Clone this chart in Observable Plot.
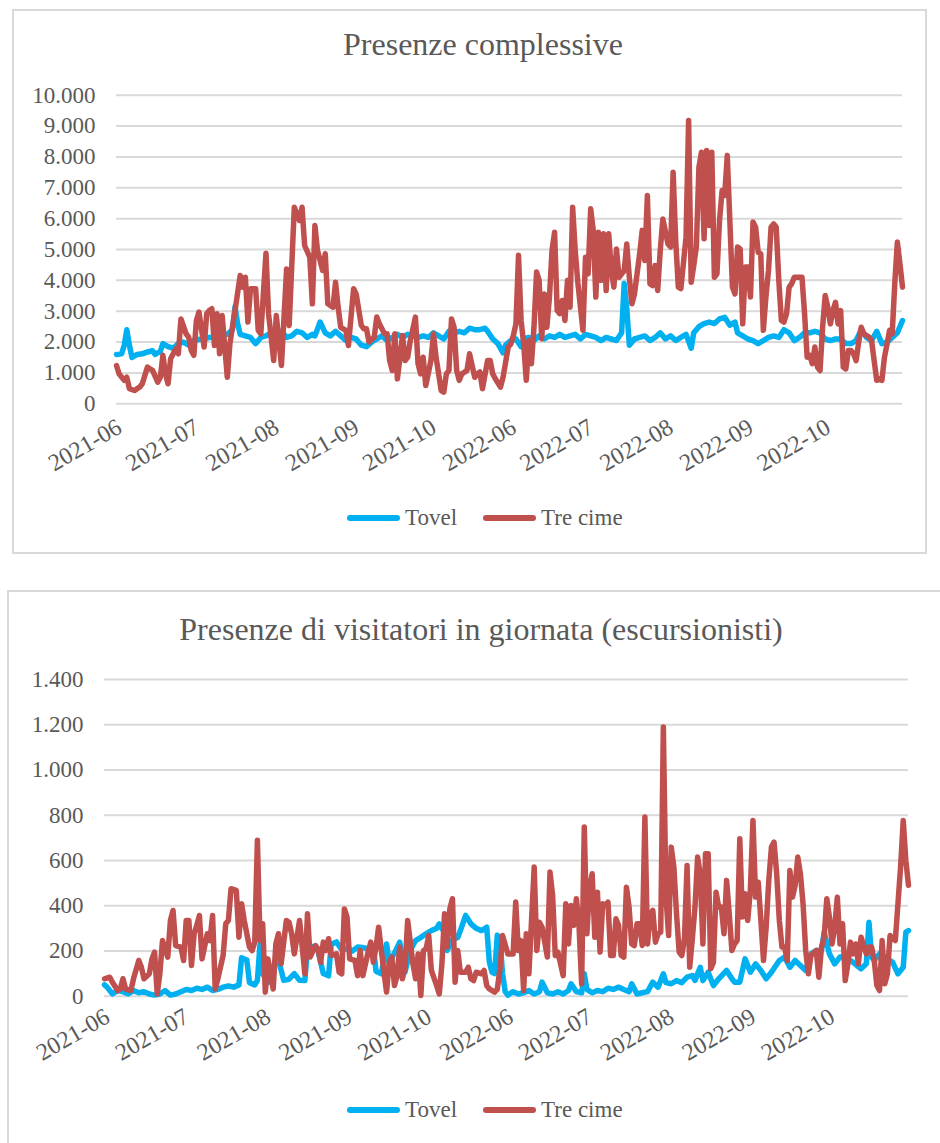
<!DOCTYPE html>
<html>
<head>
<meta charset="utf-8">
<script src="https://cdn.jsdelivr.net/npm/d3@7"></script>
<script src="https://cdn.jsdelivr.net/npm/@observablehq/plot@0.6"></script>
<style>
  html, body { margin: 0; padding: 0; background: #fff; }
  body { width: 940px; height: 1143px; position: relative; overflow: hidden;
         font-family: "Liberation Serif", "Times New Roman", serif; color: #595959; }
  .box { position: absolute; border: 2px solid #d9d9d9; box-sizing: border-box; }
  .title { position: absolute; font-size: 32px; line-height: 32px; white-space: nowrap; transform: translateX(-50%); }
  .legend { position: absolute; display: flex; align-items: center; height: 24px; font-size: 23px; line-height: 24px; white-space: nowrap; }
  .sw { display: inline-block; width: 53px; height: 6px; border-radius: 3px; margin-right: 5px; }
  .chart { position: absolute; left: 0; }
</style>
</head>
<body>
<div class="box" style="left:12px;top:9px;width:915px;height:545px;"></div>
<div class="box" style="left:7px;top:590px;width:945px;height:570px;"></div>
<div class="title" id="t1" style="left:483px;top:28px;"></div>
<div class="title" id="t2" style="left:481px;top:613px;"></div>
<div class="chart" id="c1" style="top:80px;"></div>
<div class="chart" id="c2" style="top:660px;"></div>
<div class="legend" id="l1" style="left:347px;top:506px;"></div>
<div class="legend" id="l2" style="left:347px;top:1098px;"></div>
<script>
// ---- labels ----
const titleTop = "Presenze complessive";
const titleBottom = "Presenze di visitatori in giornata (escursionisti)";
const seriesNames = ["Tovel", "Tre cime"];
const seriesColors = ["#00b0f0", "#c0504d"];
const monthLabels = ["2021-06","2021-07","2021-08","2021-09","2021-10","2022-06","2022-07","2022-08","2022-09","2022-10"];
const monthDays = [30,31,31,30,31,30,31,31,30,31];
const topTicks = [0,1000,2000,3000,4000,5000,6000,7000,8000,9000,10000];
const bottomTicks = [0,200,400,600,800,1000,1200,1400];

// ---- data: [day of season (0 = 2021-06-01, 153 = 2022-06-01), value] ----
const topTovel = [[0,1600],[2,1620],[3,1900],[4,2400],[5,1900],[6,1500],[8,1600],[10,1620],[12,1680],[14,1720],[15,1600],[17,1700],[18,1950],[20,1850],[22,1800],[24,1950],[26,2000],[28,1900],[30,2050],[33,2100],[36,2150],[40,2200],[43,2250],[45,2400],[46,3150],[47,2600],[48,2250],[50,2200],[52,2150],[54,1950],[56,2150],[58,2200],[60,2300],[62,2250],[64,2350],[66,2150],[68,2200],[70,2350],[72,2300],[74,2150],[76,2250],[77,2200],[79,2650],[81,2300],[83,2200],[85,2350],[87,2200],[89,2050],[91,2150],[93,2100],[95,1900],[97,1850],[99,2000],[101,2100],[103,2200],[105,2050],[107,2150],[109,2250],[111,2150],[113,2250],[115,2200],[117,2150],[119,2200],[121,2150],[123,2300],[125,2200],[127,2100],[129,2350],[131,2300],[133,2350],[135,2300],[137,2450],[139,2400],[141,2400],[143,2450],[144,2350],[146,2100],[148,1950],[150,1650],[151,1900],[153,2050],[155,2100],[157,1850],[158,2100],[160,2150],[162,2050],[164,2200],[166,2100],[168,2200],[170,2150],[172,2250],[174,2150],[176,2200],[178,2250],[180,2100],[182,2250],[184,2200],[186,2150],[188,2050],[190,2150],[192,2100],[194,2050],[196,2300],[197,3900],[198,3100],[199,1900],[201,2100],[203,2150],[205,2200],[207,2050],[209,2150],[211,2300],[213,2100],[215,2200],[217,2050],[219,2150],[221,2250],[223,1800],[224,2300],[226,2500],[228,2600],[230,2650],[232,2600],[234,2750],[236,2800],[238,2550],[240,2650],[241,2300],[243,2200],[245,2100],[247,2050],[249,1950],[251,2050],[253,2150],[255,2200],[257,2150],[259,2400],[261,2300],[263,2050],[265,2150],[267,2300],[269,2300],[271,2350],[273,2300],[275,2100],[277,2050],[279,2100],[281,2100],[283,1950],[285,1950],[287,2050],[289,2400],[291,2150],[293,2050],[295,2350],[297,1950],[299,2000],[301,2150],[303,2300],[305,2700]];

const topTre = [[0,1240],[1,970],[3,760],[4,860],[5,490],[7,430],[8,490],[9,540],[10,650],[12,1190],[13,1130],[14,1080],[16,700],[17,860],[18,1570],[19,970],[20,650],[21,1460],[23,1780],[24,1620],[25,2750],[27,2270],[28,2160],[29,1730],[30,1570],[31,2700],[32,2970],[34,1840],[35,2920],[36,3020],[37,3080],[38,1890],[39,2920],[40,1620],[41,2860],[43,860],[44,1940],[45,2500],[46,3020],[48,4160],[49,3780],[50,4100],[51,2650],[52,3730],[54,3730],[55,2380],[56,2270],[58,4880],[59,2920],[61,1400],[62,2860],[64,1240],[66,4370],[67,2540],[69,6370],[71,5940],[72,6370],[73,5130],[75,4750],[76,3240],[77,5780],[78,4970],[80,4320],[81,4860],[82,3240],[84,3130],[85,3940],[86,3130],[87,2480],[89,2380],[90,1890],[92,3730],[93,3560],[95,2540],[96,2430],[97,2430],[98,2000],[100,2160],[101,2810],[102,2590],[104,2270],[105,2270],[106,1400],[107,1080],[108,2270],[109,810],[111,2210],[112,1400],[113,1510],[114,2050],[116,2810],[117,1300],[118,970],[119,1510],[120,590],[122,1400],[123,2270],[124,1510],[126,430],[127,380],[128,970],[129,1080],[130,2750],[131,2480],[132,1080],[133,760],[134,970],[136,1080],[137,1620],[139,860],[140,970],[141,1030],[142,490],[144,1400],[145,1400],[146,970],[147,810],[149,540],[150,860],[152,1840],[153,1940],[154,2210],[155,2590],[156,4810],[157,2700],[158,1940],[159,760],[160,2050],[161,1300],[162,2480],[163,4270],[164,4000],[165,2110],[166,3560],[167,2480],[168,3460],[169,4970],[170,5560],[171,3020],[172,2920],[173,3350],[174,2700],[175,4000],[176,3130],[177,6370],[178,4970],[179,3940],[181,2380],[182,4750],[183,4210],[184,6320],[185,5620],[186,3460],[187,5560],[188,4000],[189,5510],[190,3670],[191,5510],[192,4320],[193,3780],[194,5020],[195,4100],[197,4320],[198,5180],[199,4100],[200,3240],[201,3560],[203,4860],[204,5620],[205,4640],[206,6750],[207,3890],[208,3830],[209,4480],[210,3670],[211,4970],[212,5990],[214,5180],[215,5080],[216,7500],[217,5290],[218,3780],[219,3730],[221,5400],[222,9180],[223,3940],[224,4480],[225,5080],[226,7670],[227,8150],[228,5350],[229,8210],[230,5780],[231,8150],[232,4100],[233,4210],[234,5940],[235,6910],[236,6750],[237,8050],[238,5940],[239,3780],[240,3560],[241,5080],[242,5020],[243,2590],[244,4430],[245,4430],[246,3460],[247,5890],[248,5720],[249,4910],[250,4860],[251,2380],[252,3460],[253,4320],[254,5720],[255,5830],[256,5720],[257,4000],[258,2700],[259,2650],[260,2920],[261,3780],[262,3890],[263,4100],[265,4100],[266,4100],[267,2920],[268,1510],[269,1570],[270,1300],[271,1840],[272,1190],[273,1080],[274,2480],[275,3510],[276,3130],[277,2590],[278,3020],[279,3290],[280,2590],[281,3020],[282,1190],[283,1130],[284,1730],[285,1730],[286,1620],[287,1400],[288,2000],[289,2480],[290,2270],[292,2160],[293,2050],[294,1400],[295,760],[296,810],[297,760],[298,1510],[299,1940],[300,2380],[301,2270],[302,3890],[303,5240],[304,4540],[305,3780]];

const bottomTovel = [[0,50],[1,40],[3,10],[5,25],[7,20],[9,10],[11,25],[13,15],[15,20],[17,10],[19,5],[21,10],[23,25],[25,5],[27,10],[29,20],[31,30],[33,25],[35,35],[37,30],[39,40],[41,25],[43,30],[45,40],[47,45],[49,40],[51,50],[52,170],[54,160],[55,60],[57,50],[58,70],[59,230],[60,100],[62,60],[64,120],[65,170],[66,160],[68,70],[70,75],[72,100],[74,70],[76,69],[77,210],[79,220],[81,200],[83,100],[85,90],[86,230],[88,240],[90,205],[92,210],[94,200],[96,217],[98,215],[100,210],[102,217],[103,110],[105,99],[107,231],[108,150],[110,190],[112,239],[114,106],[116,202],[118,246],[120,260],[122,276],[124,290],[126,300],[127,320],[129,280],[130,202],[132,250],[134,260],[135,290],[137,357],[139,320],[141,300],[143,290],[145,305],[146,150],[147,106],[148,100],[149,270],[150,250],[151,100],[152,20],[153,5],[155,20],[157,10],[159,15],[161,25],[163,10],[165,20],[166,62],[168,15],[170,10],[172,20],[174,10],[176,25],[177,55],[179,20],[181,15],[182,99],[183,30],[185,15],[187,25],[189,20],[191,35],[193,30],[195,40],[197,30],[199,20],[200,55],[202,10],[204,15],[206,20],[208,62],[210,40],[212,99],[213,60],[215,55],[217,69],[219,60],[221,84],[223,91],[224,70],[226,128],[227,69],[229,106],[231,47],[233,77],[236,114],[238,77],[239,62],[241,62],[243,165],[245,106],[247,143],[249,114],[251,77],[253,106],[256,158],[258,173],[260,128],[262,158],[264,136],[266,114],[268,187],[270,202],[272,202],[273,283],[275,187],[277,143],[279,173],[280,173],[282,165],[284,150],[287,121],[289,143],[290,327],[291,173],[292,158],[294,187],[297,165],[299,150],[301,99],[303,128],[304,283],[305,290]];

const bottomTre = [[0,77],[2,84],[3,62],[5,25],[6,32],[7,77],[8,32],[10,25],[11,77],[13,158],[14,128],[15,77],[17,99],[18,165],[19,195],[20,10],[21,99],[22,246],[24,173],[25,335],[26,379],[27,224],[29,217],[30,158],[31,335],[32,335],[33,136],[34,276],[35,313],[36,357],[37,165],[39,276],[40,246],[41,357],[42,32],[43,77],[45,180],[46,320],[47,335],[48,475],[50,468],[51,261],[52,409],[53,335],[55,217],[56,202],[57,239],[58,689],[59,246],[60,320],[61,18],[62,165],[64,32],[65,231],[66,276],[67,143],[69,335],[70,327],[71,276],[72,187],[74,335],[76,99],[77,364],[78,173],[80,224],[81,209],[82,150],[83,239],[84,202],[85,254],[86,180],[88,187],[89,106],[90,99],[91,386],[92,350],[93,165],[95,158],[96,91],[97,202],[98,91],[100,195],[101,239],[102,150],[103,217],[104,305],[106,106],[107,18],[108,150],[109,173],[110,47],[111,91],[112,217],[113,77],[114,128],[115,335],[117,143],[118,77],[119,187],[120,3],[121,202],[122,209],[123,268],[124,114],[126,47],[127,10],[128,143],[129,364],[130,217],[131,386],[132,431],[133,62],[134,202],[135,106],[137,106],[138,128],[139,77],[140,69],[141,106],[143,99],[144,114],[145,47],[146,32],[148,18],[149,30],[150,120],[151,268],[153,187],[155,187],[156,416],[157,202],[158,246],[159,25],[160,276],[161,99],[163,571],[164,202],[165,327],[166,305],[168,173],[169,549],[170,445],[171,180],[172,195],[174,91],[175,409],[176,231],[177,401],[178,313],[179,431],[180,313],[181,55],[182,748],[183,276],[184,482],[185,541],[186,261],[187,460],[188,195],[189,409],[190,401],[191,416],[192,180],[193,180],[194,342],[195,313],[196,180],[197,173],[198,482],[199,394],[200,231],[201,224],[202,320],[203,320],[204,224],[205,792],[206,231],[207,364],[208,379],[209,239],[210,276],[211,283],[212,1190],[213,438],[214,268],[215,659],[216,571],[217,364],[218,195],[219,180],[220,254],[221,578],[222,128],[223,254],[224,394],[225,615],[226,541],[227,231],[228,630],[229,630],[230,121],[231,150],[232,460],[233,394],[234,394],[235,276],[236,512],[237,364],[238,202],[239,231],[240,246],[241,696],[242,350],[243,453],[244,335],[245,468],[246,777],[247,438],[248,504],[249,335],[250,158],[251,305],[252,512],[253,659],[254,681],[255,541],[256,335],[257,217],[258,217],[259,158],[260,556],[261,438],[262,490],[263,615],[264,541],[265,409],[266,202],[267,99],[268,180],[270,202],[271,84],[272,217],[273,261],[274,431],[275,350],[276,231],[277,305],[278,438],[279,231],[280,320],[281,69],[282,143],[283,239],[284,187],[285,231],[286,143],[287,261],[289,187],[290,217],[291,217],[292,158],[293,47],[294,25],[295,246],[296,55],[297,99],[298,268],[299,254],[300,246],[302,571],[303,777],[304,600],[305,490]];

// ---- helpers ----
const itFmt = d3.formatLocale({decimal: ",", thousands: ".", grouping: [3], currency: ["", "€"]}).format(",");
const monthStarts = monthDays.map((_, k) => d3.sum(monthDays.slice(0, k)));
const xTicks = monthLabels.map((label, k) => ({day: monthStarts[k], label}));
const lastDay = d3.sum(monthDays) - 1;

function lineChart({tovel, tre, yTicks, height, marginLeft, marginRight, marginTop, marginBottom, labelDy}) {
  return Plot.plot({
    width: 940, height, marginLeft, marginRight, marginTop, marginBottom,
    style: {fontFamily: '"Liberation Serif", "Times New Roman", serif', fontSize: "23px", color: "#595959", background: "transparent", overflow: "visible"},
    x: {domain: [0, lastDay], axis: null},
    y: {domain: [0, d3.max(yTicks)], axis: null},
    marks: [
      Plot.ruleY(yTicks, {stroke: "#d9d9d9", strokeWidth: 2}),
      Plot.text(yTicks, {y: d => d, text: d => itFmt(d), frameAnchor: "left", textAnchor: "end", dx: -21, fill: "#595959", fontSize: 23}),
      Plot.text(xTicks, {x: "day", text: "label", frameAnchor: "bottom", textAnchor: "end", rotate: -30, dx: 7, dy: labelDy, fill: "#595959", fontSize: 24}),
      Plot.line(tovel, {x: d => d[0], y: d => d[1], stroke: seriesColors[0], strokeWidth: 5.5, strokeLinejoin: "round", strokeLinecap: "round"}),
      Plot.line(tre, {x: d => d[0], y: d => d[1], stroke: seriesColors[1], strokeWidth: 5.5, strokeLinejoin: "round", strokeLinecap: "round"})
    ]
  });
}

document.getElementById("t1").textContent = titleTop;
document.getElementById("t2").textContent = titleBottom;

document.getElementById("c1").appendChild(lineChart({
  tovel: topTovel, tre: topTre, yTicks: topTicks,
  height: 400, marginLeft: 116, marginRight: 38, marginTop: 14.7, marginBottom: 76.7, labelDy: 28
}));
document.getElementById("c2").appendChild(lineChart({
  tovel: bottomTovel, tre: bottomTre, yTicks: bottomTicks,
  height: 420, marginLeft: 104, marginRight: 32, marginTop: 19, marginBottom: 84.3, labelDy: 25
}));

for (const id of ["l1", "l2"]) {
  const el = document.getElementById(id);
  seriesNames.forEach((name, k) => {
    const sw = document.createElement("span");
    sw.className = "sw";
    sw.style.background = seriesColors[k];
    const tx = document.createElement("span");
    tx.textContent = name;
    if (k === 0) tx.style.marginRight = "26px";
    el.appendChild(sw);
    el.appendChild(tx);
  });
}
</script>
</body>
</html>
